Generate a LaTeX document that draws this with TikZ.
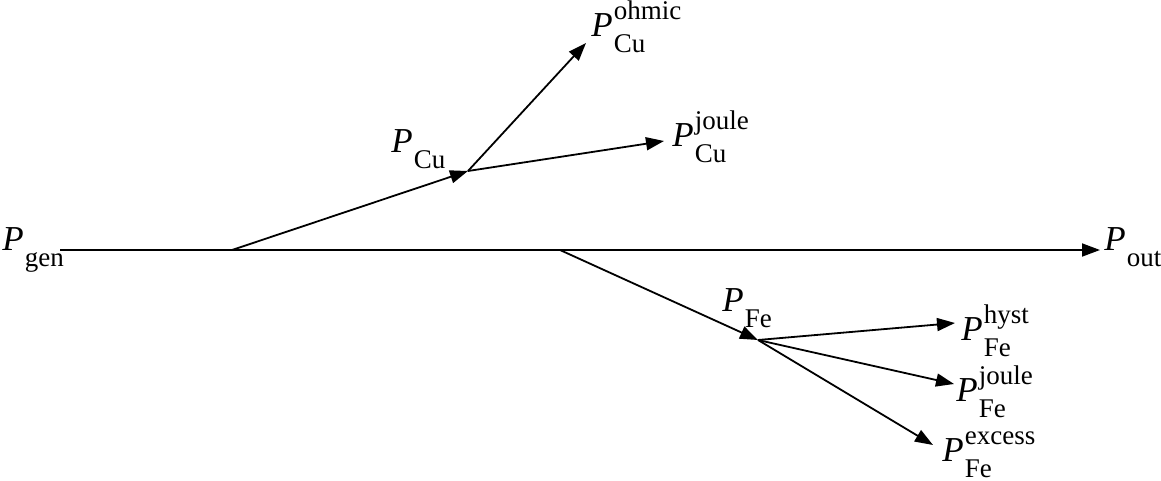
\documentclass[tikz,border=0pt]{standalone}
\usepackage{fontspec}
\setmainfont{Liberation Serif}
\usetikzlibrary{arrows.meta}
\newcommand{\PL}[2]{\textit{P}\kern0.5pt{\fontsize{13.5}{13.5}\selectfont\ooalign{\raisebox{8.5pt}{#2}\cr\raisebox{-8pt}{#1}\cr}}}
\begin{document}
\begin{tikzpicture}[x=0.5pt,y=-0.5pt,
  >={Triangle[length=9pt,width=6.5pt]},
  conn/.style={->, line width=0.9pt},
  lbl/.style={font=\fontsize{17.5}{20}\selectfont, inner sep=0pt, anchor=base west}]
\useasboundingbox (0,0) rectangle (1161,481);
% labels
\node[lbl] (gen) at (2,250) {\PL{gen}{}};
\node[lbl] (out) at (1104,250) {\PL{out}{}};
\node[lbl] (cu) at (391,153) {\PL{Cu}{}};
\node[lbl] (cuohm) at (591,37) {\PL{Cu}{ohmic}};
\node[lbl] (cujou) at (672,147) {\PL{Cu}{joule}};
\node[lbl] (fe) at (722,311) {\PL{Fe}{}};
\node[lbl] (fehys) at (961,340) {\PL{Fe}{hyst}};
\node[lbl] (fejou) at (956,401) {\PL{Fe}{joule}};
\node[lbl] (feexc) at (942,461) {\PL{Fe}{excess}};
% coordinates
\coordinate (start) at (60,250);
\coordinate (outtip) at (1100,250);
\coordinate (bcu) at (232,250);
\coordinate (jcu) at (468,171);
\coordinate (tohm) at (586,43);
\coordinate (tjou) at (664,141);
\coordinate (bfe) at (560,250);
\coordinate (jfe) at (758,340);
\coordinate (thys) at (955,323);
\coordinate (tfjou) at (954,384);
\coordinate (texc) at (933,445);
% connectors
\draw[conn] (start) -- (outtip);
\draw[conn] (bcu) -- (jcu);
\draw[conn] (jcu) -- (tohm);
\draw[conn] (jcu) -- (tjou);
\draw[conn] (bfe) -- (jfe);
\draw[conn] (jfe) -- (thys);
\draw[conn] (jfe) -- (tfjou);
\draw[conn] (jfe) -- (texc);
\end{tikzpicture}
\end{document}
